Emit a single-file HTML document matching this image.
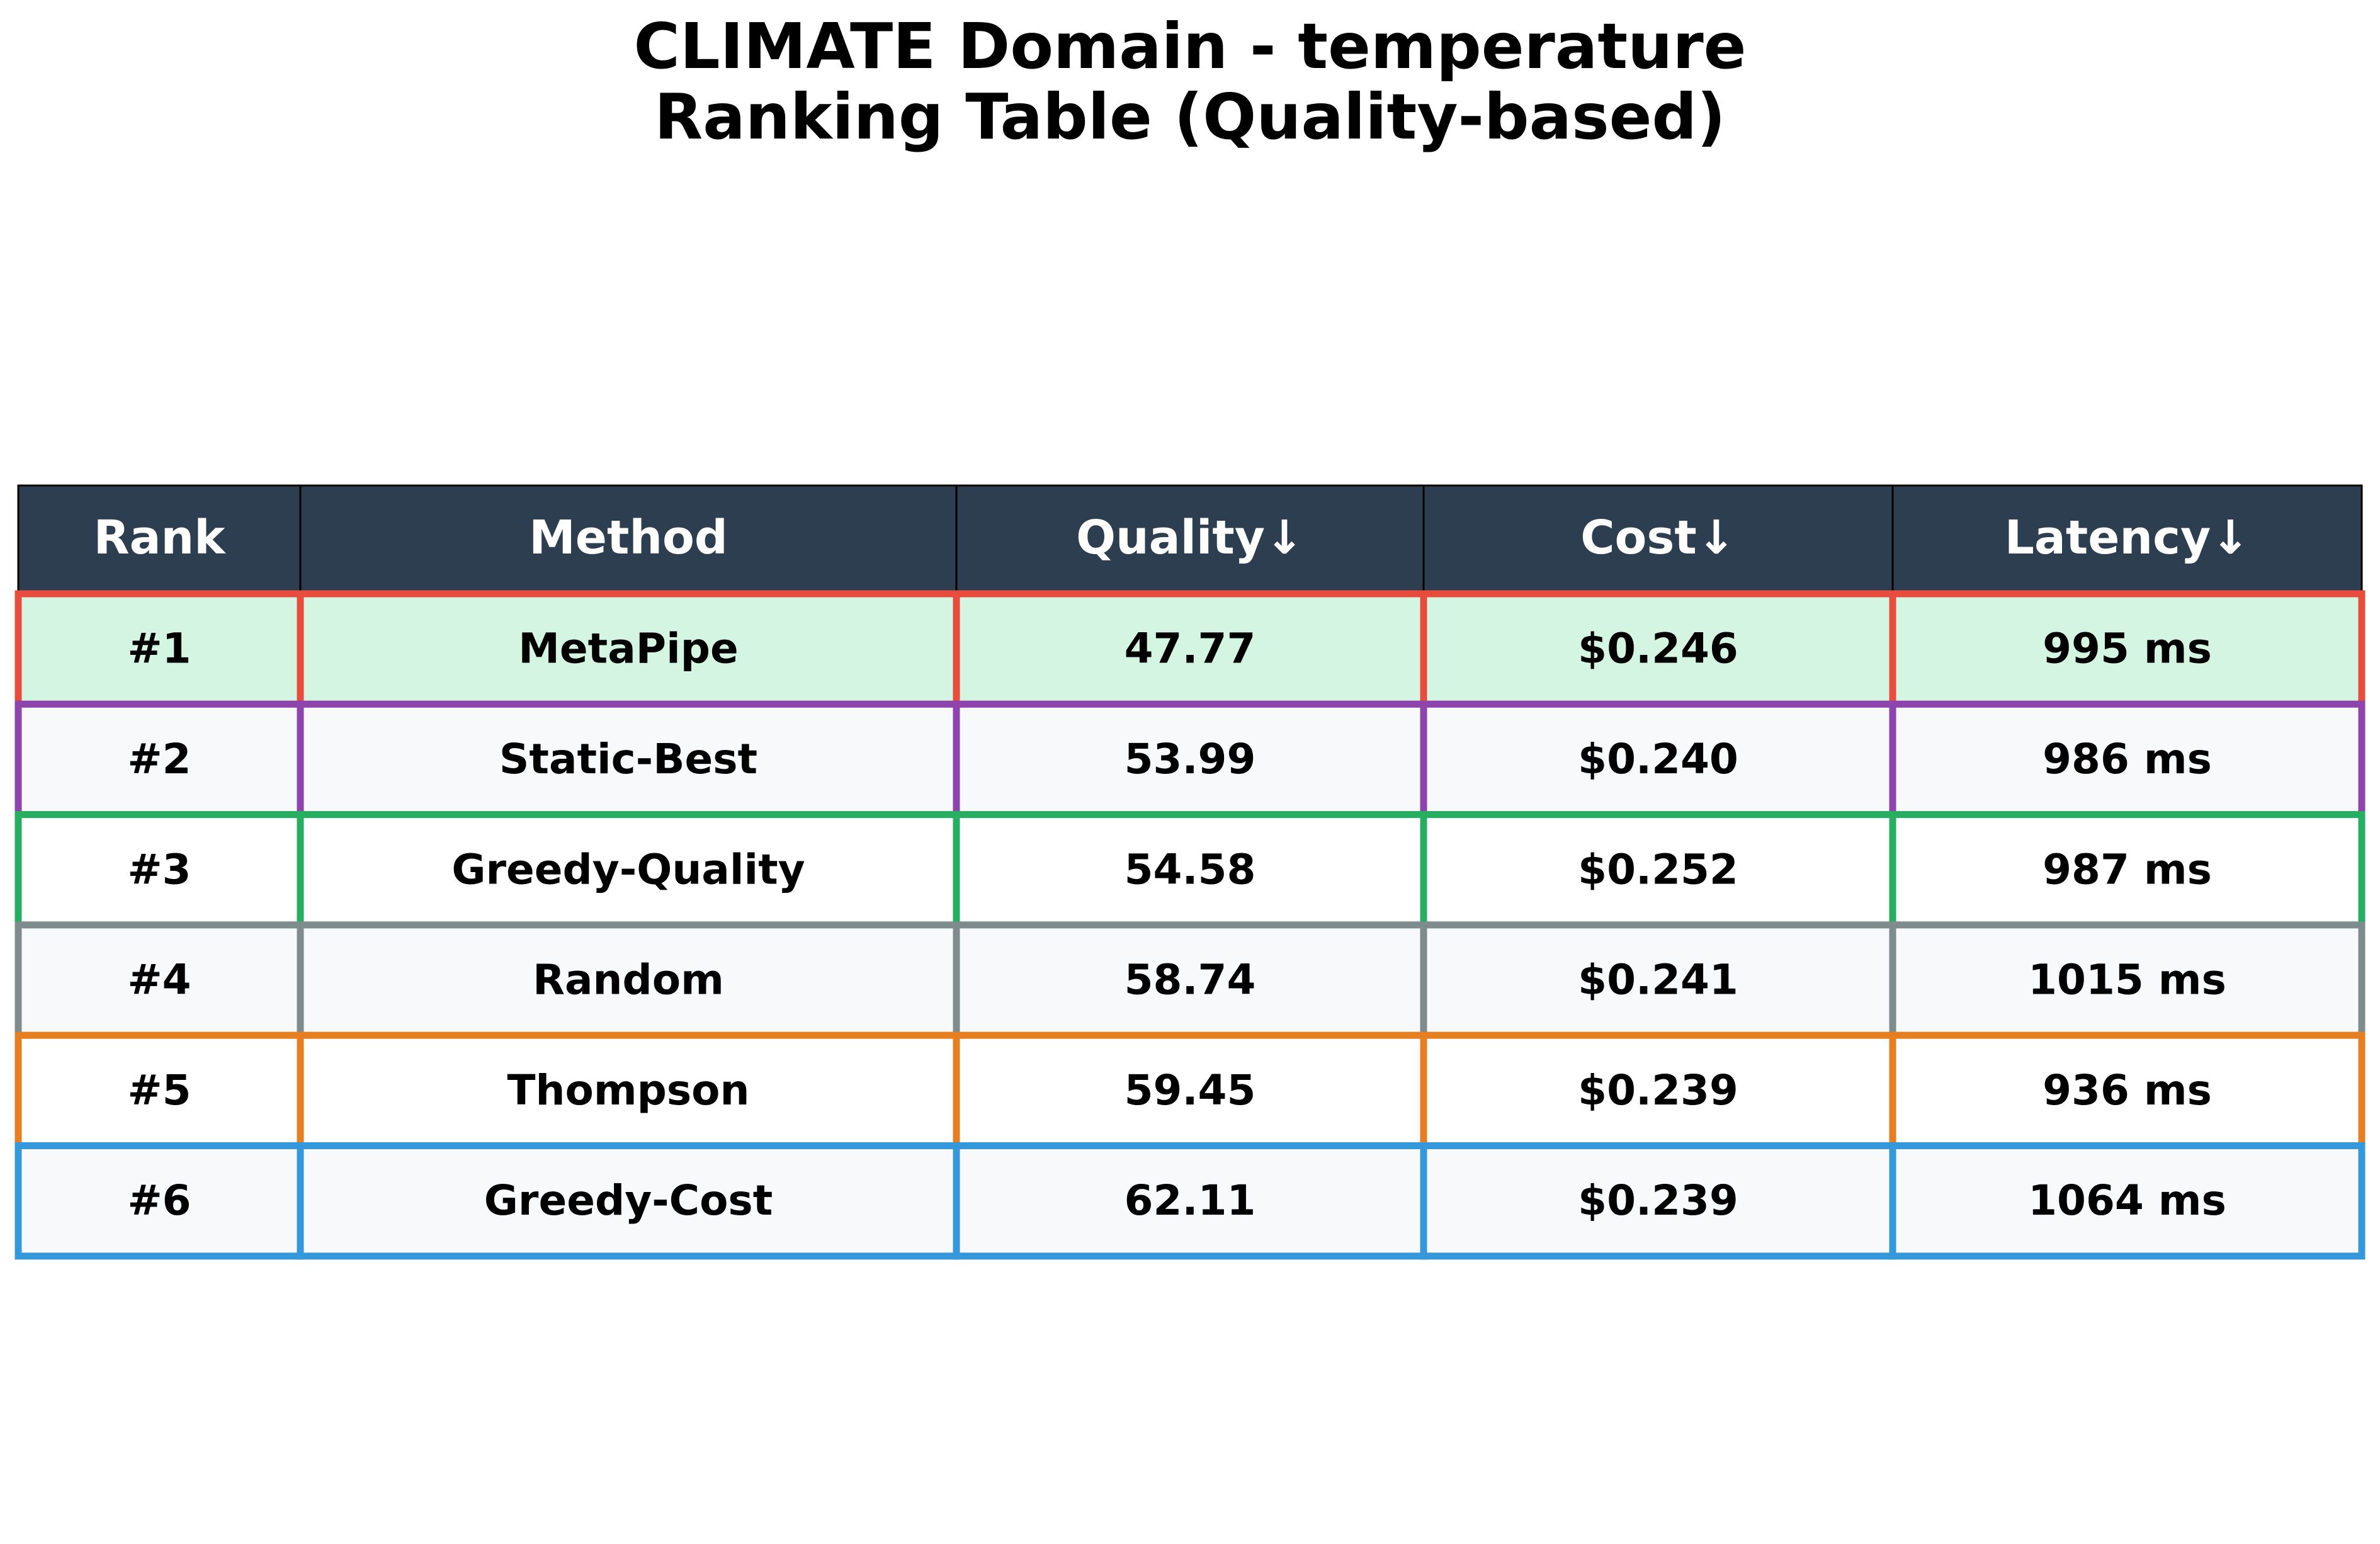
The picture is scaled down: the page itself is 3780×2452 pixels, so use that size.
<!DOCTYPE html>
<html><head><meta charset="utf-8"><style>
html,body{margin:0;padding:0;background:#fff;}
svg{display:block;font-family:"DejaVu Sans","Liberation Sans",sans-serif;font-weight:bold;}
</style></head><body>
<svg id="chart" width="3780" height="2452" viewBox="0 0 3780 2452" xmlns="http://www.w3.org/2000/svg">
<text x="1890" y="108" text-anchor="middle" font-size="100" fill="#000">CLIMATE Domain - temperature</text>
<text x="1890" y="220" text-anchor="middle" font-size="100" fill="#000">Ranking Table (Quality-based)</text>
<g id="tbl"></g>
</svg>
<script>
const headers = ["Rank","Method","Quality↓","Cost↓","Latency↓"];
const ranks = ["#1","#2","#3","#4","#5","#6"];
const methods = ["MetaPipe","Static-Best","Greedy-Quality","Random","Thompson","Greedy-Cost"];
const quality = [47.77,53.99,54.58,58.74,59.45,62.11];
const cost = [0.246,0.240,0.252,0.241,0.239,0.239];
const latency = [995,986,987,1015,936,1064];
const borderColors = ["#e74c3c","#8e44ad","#27ae60","#7f8c8d","#e67e22","#3498db"];
const rowFills = ["#d5f5e3","#f8f9fa","#ffffff","#f8f9fa","#ffffff","#f8f9fa"];

const colEdges = [29,477,1519,2261,3006,3751];
const headTop = 771, headBot = 943, rowH = 175.3;
const NS = "http://www.w3.org/2000/svg";
const g = document.getElementById('tbl');
function mk(tag, attrs){const e=document.createElementNS(NS,tag);for(const k in attrs)e.setAttribute(k,attrs[k]);return e;}

headers.forEach((h,i)=>{
  const r = mk('rect',{x:colEdges[i],y:headTop,width:colEdges[i+1]-colEdges[i],height:headBot-headTop,fill:'#2c3e50',stroke:'#000','stroke-width':3});
  
  
  g.appendChild(r);
  const t = mk('text',{x:(colEdges[i]+colEdges[i+1])/2,y:(headTop+headBot)/2+22,'text-anchor':'middle','font-size':74,fill:'#fff'});
  t.textContent = h;
  
  
  g.appendChild(t);
});

ranks.forEach((rk,ri)=>{
  const y0 = headBot + ri*rowH;
  const vals = [rk, methods[ri], quality[ri].toFixed(2), '$'+cost[ri].toFixed(3), latency[ri]+' ms'];
  vals.forEach((v,ci)=>{
    const r = mk('rect',{x:colEdges[ci],y:y0,width:colEdges[ci+1]-colEdges[ci],height:rowH,fill:rowFills[ri],stroke:borderColors[ri],'stroke-width':11});
    
    
    g.appendChild(r);
  });
  vals.forEach((v,ci)=>{
    const t = mk('text',{x:(colEdges[ci]+colEdges[ci+1])/2,y:y0+rowH/2+22,'text-anchor':'middle','font-size':66,fill:'#000'});
    t.textContent = v;
    
    
    g.appendChild(t);
  });
});
</script>
</body></html>
